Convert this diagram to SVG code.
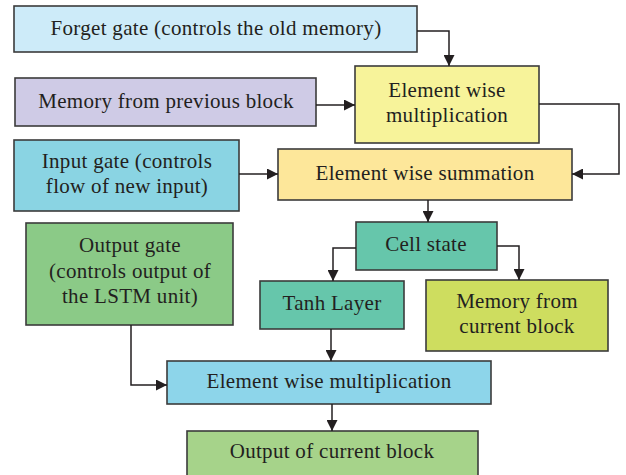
<svg xmlns="http://www.w3.org/2000/svg" width="626" height="475" viewBox="0 0 626 475">
<style>
.box{stroke:#3b3b3b;stroke-width:1.6}
text{font-family:"Liberation Serif","Times New Roman","DejaVu Serif",serif;font-size:21px;letter-spacing:0.3px;fill:#231f20;text-anchor:middle}
.conn path{fill:none;stroke:#231f20;stroke-width:1.5;marker-end:url(#ah)}
</style>
<defs>
<marker id="ah" markerUnits="userSpaceOnUse" markerWidth="11" markerHeight="11" viewBox="0 0 10 10" refX="10" refY="5" orient="auto">
<path d="M0,0 L10,5 L0,10 z" fill="#231f20"/>
</marker>
</defs>
<rect width="626" height="475" fill="#ffffff"/>
<g id="forget">
<rect class="box" x="14" y="6" width="403" height="46" fill="#cdebf9"/>
<text x="216" y="35">Forget gate (controls the old memory)</text>
</g>
<g id="memprev">
<rect class="box" x="15" y="78" width="301" height="48" fill="#cfcbe6"/>
<text x="166" y="108">Memory from previous block</text>
</g>
<g id="ewm1">
<rect class="box" x="355" y="66" width="184" height="77" fill="#f7f39a"/>
<text x="447" y="97">Element wise</text>
<text x="447" y="122">multiplication</text>
</g>
<g id="input">
<rect class="box" x="14" y="140" width="225" height="71" fill="#8ad4e3"/>
<text x="127" y="168">Input gate (controls</text>
<text x="127" y="193">flow of new input)</text>
</g>
<g id="sum">
<rect class="box" x="278" y="149" width="294" height="51" fill="#fde79a"/>
<text x="425" y="180">Element wise summation</text>
</g>
<g id="outgate">
<rect class="box" x="26" y="223" width="207" height="102" fill="#8bca87"/>
<text x="130" y="252">Output gate</text>
<text x="130" y="278">(controls output of</text>
<text x="130" y="303">the LSTM unit)</text>
</g>
<g id="cell">
<rect class="box" x="356" y="222" width="141" height="48" fill="#66c6ab"/>
<text x="426" y="251">Cell state</text>
</g>
<g id="tanh">
<rect class="box" x="260" y="281" width="144" height="48" fill="#66c6ab"/>
<text x="332" y="310">Tanh Layer</text>
</g>
<g id="memcurr">
<rect class="box" x="426" y="280" width="182" height="71" fill="#cedd5f"/>
<text x="517" y="308">Memory from</text>
<text x="517" y="333">current block</text>
</g>
<g id="ewm2">
<rect class="box" x="167" y="361" width="324" height="43" fill="#8dd5ea"/>
<text x="329" y="388">Element wise multiplication</text>
</g>
<g id="output">
<rect class="box" x="187" y="431" width="291" height="50" fill="#a6d38a"/>
<text x="332" y="458">Output of current block</text>
</g>
<g id="connectors" class="conn">
<path d="M417,31 H449 V66"/>
<path d="M316,105 H355"/>
<path d="M539,104 H619 V174 H572"/>
<path d="M239,174 H278"/>
<path d="M428,200 V222"/>
<path d="M356,248 H333 V281"/>
<path d="M497,246 H519 V280"/>
<path d="M331,329 V361"/>
<path d="M131,325 V385 H167"/>
<path d="M332,404 V431"/>
</g>
</svg>
